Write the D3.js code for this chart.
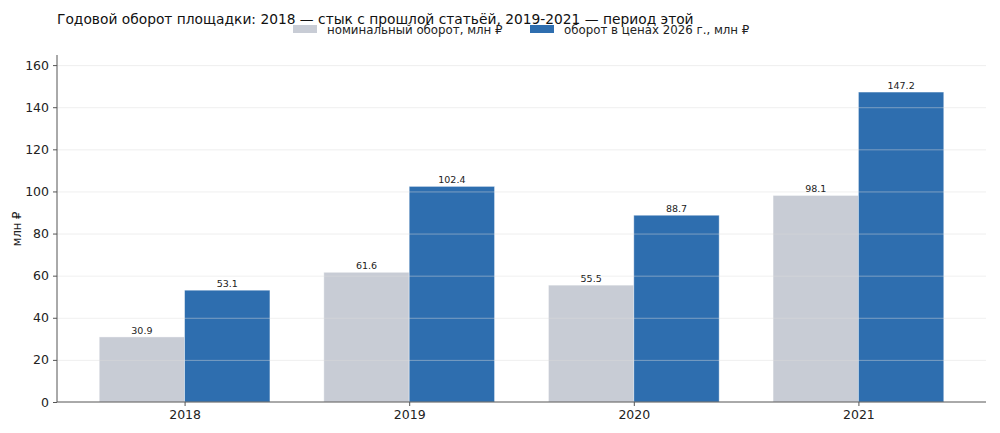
<!DOCTYPE html>
<html><head><meta charset="utf-8">
<script src="https://cdn.jsdelivr.net/npm/d3@7"></script>
<style>body{margin:0;background:#fff}svg{display:block;font-family:"DejaVu Sans",sans-serif}</style>
</head><body>
<svg id="c" width="1000" height="433"></svg>
<script>
const categories = ["2018","2019","2020","2021"];
const nominal = [30.9, 61.6, 55.5, 98.1];
const real2026 = [53.1, 102.4, 88.7, 147.2];
const yTicks = [0,20,40,60,80,100,120,140,160];
const seriesNames = ["номинальный оборот, млн ₽","оборот в ценах 2026 г., млн ₽"];
const titleText = "Годовой оборот площадки: 2018 — стык с прошлой статьёй, 2019-2021 — период этой";

const svg = d3.select("#c");
const L=57,R=986,T=55,B=402;
const barW=0.38;
const x = d3.scaleLinear().domain([-0.568, 3.568]).range([L,R]);
const y = d3.scaleLinear().domain([0,164.8]).range([B,T]);
const colors=["#c8ccd5","#2e6eaf"];

const bars=[];
categories.forEach((c,i)=>{
  bars.push({i, off:-barW, v:nominal[i], s:0});
  bars.push({i, off:0, v:real2026[i], s:1});
});
svg.append("g").selectAll("rect").data(bars).join("rect")
  .attr("x",d=>x(d.i+d.off)).attr("width",d=>x(barW)-x(0))
  .attr("y",d=>y(d.v)).attr("height",d=>y(0)-y(d.v))
  .attr("fill",d=>colors[d.s]).attr("stroke","#ffffff").attr("stroke-opacity",0.5).attr("stroke-width",0.8);

// grid on top
svg.append("g").selectAll("line").data(yTicks.filter(t=>t>0)).join("line")
  .attr("x1",L).attr("x2",R).attr("y1",d=>y(d)+0.5).attr("y2",d=>y(d)+0.5)
  .attr("stroke","#dcdcdc").attr("stroke-opacity",0.45).attr("stroke-width",1);

// value labels
svg.append("g").selectAll("text").data(bars).join("text")
  .attr("x",d=>x(d.i+d.off+barW/2)).attr("y",d=>y(d.v)-3)
  .attr("text-anchor","middle").attr("font-size",9.5).attr("fill","#222")
  .text(d=>d.v.toFixed(1));

// axes
const ya=d3.axisLeft(y).tickValues(yTicks).tickSize(4).tickPadding(4);
const gy=svg.append("g").attr("transform",`translate(${L},0)`).call(ya);
gy.select(".domain").attr("stroke","#555").attr("d",`M0,${T}V${B}`);
gy.selectAll(".tick line").attr("stroke","#555");
gy.selectAll("text").attr("font-size",12.5).attr("fill","#222").attr("font-family","DejaVu Sans");

const xa=d3.axisBottom(x).tickValues([0,1,2,3]).tickFormat(i=>categories[i]).tickSize(4).tickPadding(4);
const gx=svg.append("g").attr("transform",`translate(0,${B})`).call(xa);
gx.select(".domain").attr("stroke","#555").attr("d",`M${L},0H${R}`);
gx.selectAll(".tick line").attr("stroke","#555");
gx.selectAll("text").attr("font-size",12.5).attr("fill","#222").attr("font-family","DejaVu Sans");

svg.append("text").attr("transform","translate(21,229) rotate(-90)").attr("text-anchor","middle")
  .attr("font-size",11.5).attr("fill","#222").text("млн ₽");

svg.append("text").attr("x",57).attr("y",24).attr("font-size",13.8).attr("fill","#111").text(titleText);

// legend
const lg=svg.append("g");
const lx=[293,530];
seriesNames.forEach((n,k)=>{
  lg.append("rect").attr("x",lx[k]).attr("y",25).attr("width",24).attr("height",8).attr("fill",colors[k]);
  lg.append("text").attr("x",lx[k]+34).attr("y",33.5).attr("font-size",11.8).attr("fill","#222").text(n);
});
</script>
</body></html>
